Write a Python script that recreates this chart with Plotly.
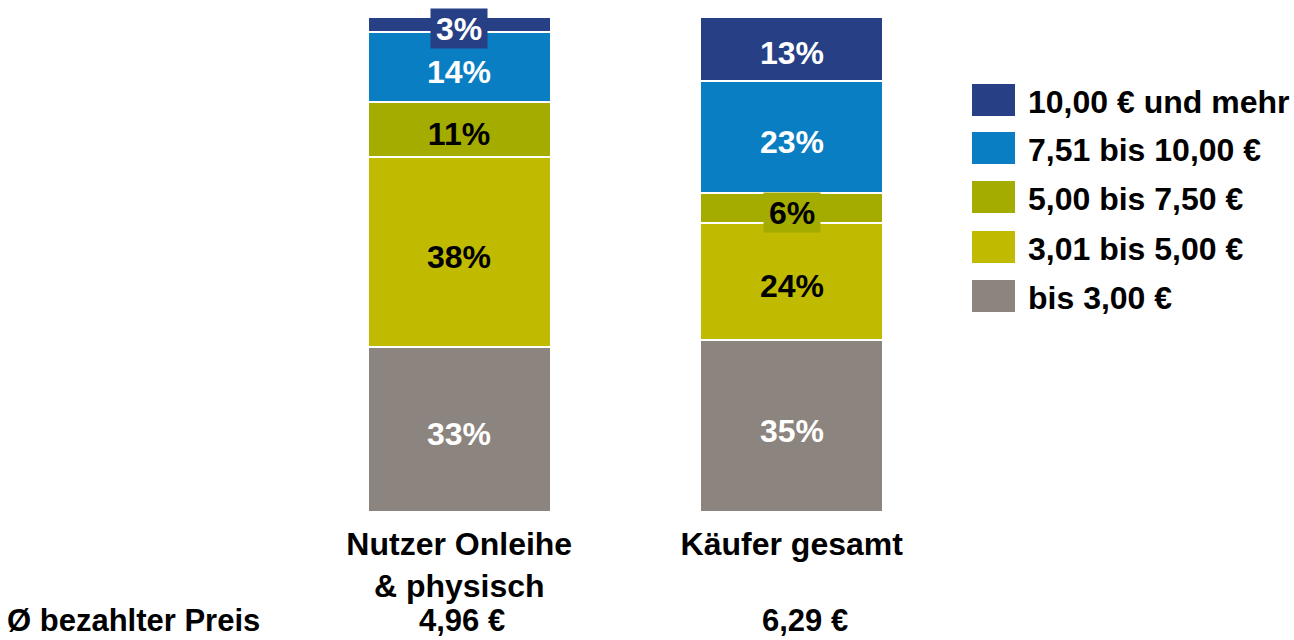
import plotly.graph_objects as go

# Paid price per e-book, share of buyers in each price band
categories = ["Nutzer Onleihe<br>& physisch", "Käufer gesamt"]
bands = ["bis 3,00 €", "3,01 bis 5,00 €", "5,00 bis 7,50 €", "7,51 bis 10,00 €", "10,00 € und mehr"]
share_upto_3 = [33, 35]
share_3_to_5 = [38, 24]
share_5_to_7_50 = [11, 6]
share_7_51_to_10 = [14, 23]
share_10_plus = [3, 13]
avg_price_label = "Ø bezahlter Preis"
avg_price = ["4,96 €", "6,29 €"]

series = [share_upto_3, share_3_to_5, share_5_to_7_50, share_7_51_to_10, share_10_plus]
colors = ["#8C847E", "#C0BB00", "#A4AC00", "#0A7EC2", "#273F84"]
label_colors = ["white", "black", "black", "white", "white"]

W, H = 1294, 640
M = dict(l=293, r=336, t=17, b=128)
PW = W - M["l"] - M["r"]
PH = H - M["t"] - M["b"]
FONT = "Liberation Sans, Arial, sans-serif"
FS = 32


def px_x(px):
    return (px - M["l"]) / PW


def px_y(py):
    return (H - M["b"] - py) / PH


fig = go.Figure()
for name, vals, col in zip(bands, series, colors):
    fig.add_bar(
        x=categories, y=vals, name=name,
        marker=dict(color=col, line=dict(color="white", width=2)),
        showlegend=False, hoverinfo="skip",
    )

# segment labels, placed at the middle of each normalised segment
annotations = []
totals = [sum(s[i] for s in series) for i in range(len(categories))]
for i, cat in enumerate(categories):
    base = 0.0
    for vals, col, tcol in zip(series, colors, label_colors):
        h = vals[i] / totals[i] * 100
        label = f"{vals[i]}%"
        annotations.append(dict(
            x=cat, y=base + h / 2, xref="x", yref="y", yshift=-4,
            text=f"<b>{label}</b>", showarrow=False,
            font=dict(family=FONT, size=FS, color=tcol),
            bgcolor=col, width=56 if len(label) == 2 else 78, height=39,
            borderpad=0, xanchor="center", yanchor="middle",
        ))
        base += h

# average price row along the bottom edge
ROW_Y = 620
annotations.append(dict(
    x=px_x(5), y=px_y(ROW_Y), xref="paper", yref="paper",
    text=f"<b>{avg_price_label}</b>", showarrow=False,
    font=dict(family=FONT, size=31, color="black"),
    xanchor="left", yanchor="middle",
))
for cat, p, dx in zip(categories, avg_price, [3, 13]):
    annotations.append(dict(
        x=cat, y=px_y(ROW_Y), xref="x", yref="paper", xshift=dx,
        text=f"<b>{p}</b>", showarrow=False,
        font=dict(family=FONT, size=31, color="black"),
        xanchor="center", yanchor="middle",
    ))

# legend drawn as colour squares with bold labels
shapes = []
legend_rows = [100, 148, 197, 247, 296]
for row_y, name, col in zip(legend_rows, bands[::-1], colors[::-1]):
    shapes.append(dict(
        type="rect", xref="paper", yref="paper",
        x0=px_x(972), x1=px_x(1015), y0=px_y(row_y - 16), y1=px_y(row_y + 16),
        fillcolor=col, line=dict(width=0),
    ))
    annotations.append(dict(
        x=px_x(1026), y=px_y(row_y), xref="paper", yref="paper", yshift=-2,
        text=f"<b>{name}</b>", showarrow=False,
        font=dict(family=FONT, size=FS, color="black"),
        xanchor="left", yanchor="middle",
    ))

fig.update_layout(
    width=W, height=H, margin=M,
    barmode="stack", barnorm="percent", bargap=0.45,
    plot_bgcolor="white", paper_bgcolor="white",
    annotations=annotations, shapes=shapes,
    xaxis=dict(
        range=[-0.5, 1.5], showgrid=False, zeroline=False, showline=False,
        ticks="", ticklabelstandoff=10,
        tickfont=dict(family=FONT, size=FS, color="black", weight="bold"),
    ),
    yaxis=dict(range=[0, 100], visible=False),
)

fig.write_html("out.html")
